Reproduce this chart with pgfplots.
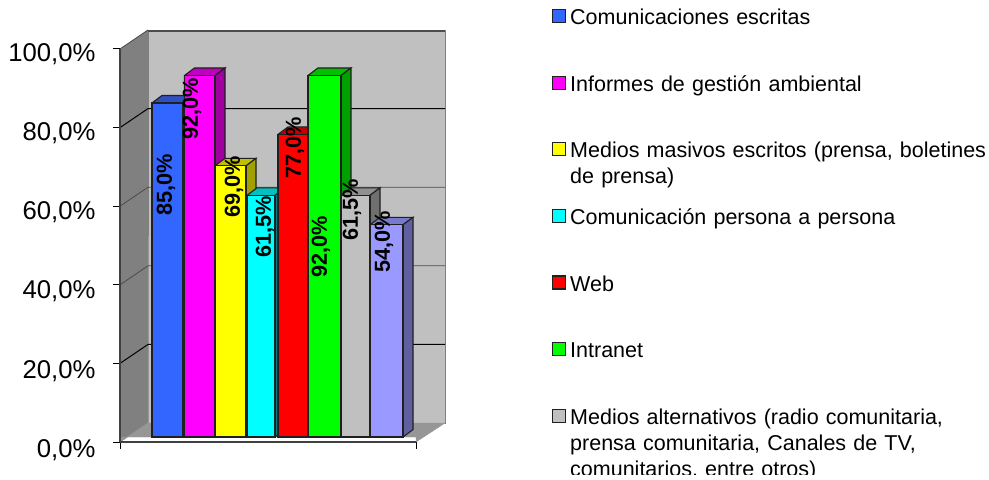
\documentclass[border=0pt]{standalone}
\usepackage{fontspec}
\setmainfont{Liberation Sans}
\usepackage{pgfplots}
\pgfplotsset{compat=1.18}
\definecolor{wall}{HTML}{C0C0C0}
\definecolor{lwall}{HTML}{808080}
\definecolor{floorc}{HTML}{969696}
\definecolor{edge}{HTML}{202020}
\definecolor{bF}{HTML}{3366FF}\definecolor{bT}{HTML}{3050C0}\definecolor{bS}{HTML}{2A4AA8}
\definecolor{mF}{HTML}{FF00FF}\definecolor{mT}{HTML}{C000C0}\definecolor{mS}{HTML}{A000A0}
\definecolor{yF}{HTML}{FFFF00}\definecolor{yT}{HTML}{C0C000}\definecolor{yS}{HTML}{A0A000}
\definecolor{cF}{HTML}{00FFFF}\definecolor{cT}{HTML}{00C0C0}\definecolor{cS}{HTML}{008080}
\definecolor{rF}{HTML}{FF0000}\definecolor{rT}{HTML}{C00000}\definecolor{rS}{HTML}{A00000}
\definecolor{gF}{HTML}{00FF00}\definecolor{gT}{HTML}{00C000}\definecolor{gS}{HTML}{00A000}
\definecolor{aF}{HTML}{C0C0C0}\definecolor{aT}{HTML}{909090}\definecolor{aS}{HTML}{707070}
\definecolor{lF}{HTML}{9999FF}\definecolor{lT}{HTML}{7A7ACC}\definecolor{lS}{HTML}{6060A0}
\tikzset{lab/.style={rotate=90,font=\fontsize{21.7bp}{21bp}\selectfont\bfseries,inner sep=0pt}}
\pgfplotsset{
  lg/.style={legend image code/.code={
    \draw[draw=edge,line width=1.2bp,fill=#1] (0bp,20bp) rectangle (13bp,33bp);}},
  face/.style={fill=#1,draw=edge,line width=1.1bp,forget plot},
  front/.style n args={2}{ybar,bar width=#1bp,fill=#2,draw=edge,line width=1.1bp},
}
\begin{document}
\begin{tikzpicture}
\path[use as bounding box] (0,0) rectangle (989bp,480bp);
\clip (0,5bp) rectangle (989bp,480bp);
\begin{axis}[
  at={(0,0)},anchor=south west,scale only axis,width=989bp,height=480bp,
  xmin=0,xmax=989,ymin=-10.94,ymax=111.2,hide axis,clip=false,
  legend style={at={(axis cs:552,108.9)},anchor=north west,draw=none,fill=none,inner sep=0pt,outer sep=0pt,
    font=\fontsize{21.5bp}{26bp}\selectfont,row sep=0pt,column sep=4bp,
    nodes={inner sep=0pt,outer sep=0pt,text width=420bp,align=left,text height=15bp,text depth=51bp}},
  legend cell align=left,
]
% walls and floor
\addplot[fill=lwall,draw=lwall,forget plot] coordinates {(120,-1.27)(148,3.56)(148,103.56)(120,98.73)} \closedcycle;
\addplot[fill=wall,draw=gray,line width=0.8bp,forget plot] coordinates {(148,3.56)(445,3.56)(445,103.56)(148,103.56)} \closedcycle;
\addplot[fill=floorc,draw=floorc,forget plot] coordinates {(120,-1.27)(148,3.56)(445,3.56)(416,-1.27)} \closedcycle;
% gridlines
\addplot[black,line width=1bp,forget plot] coordinates {(120,18.73)(148,23.56)(445,23.56)};
\addplot[black!70,line width=0.8bp,forget plot] coordinates {(120,38.73)(148,43.56)(445,43.56)};
\addplot[black!70,line width=0.8bp,forget plot] coordinates {(120,58.73)(148,63.56)(445,63.56)};
\addplot[black,line width=1bp,forget plot] coordinates {(120,78.73)(148,83.56)(445,83.56)};
\addplot[black!70,line width=2.5bp,forget plot] coordinates {(148,103.3)(445,103.3)};
\addplot[black!70,line width=0.8bp,forget plot] coordinates {(120,98.73)(148,103.56)};
% blue 85
\addplot[face=bT] coordinates {(152,85)(162,86.9)(193,86.9)(183,85)} \closedcycle;
\addplot[face=bS] coordinates {(183,0)(193,1.9)(193,86.9)(183,85)} \closedcycle;
\addplot[front={31}{bF},lg=bF] coordinates {(167.5,85)};
\addlegendentry{Comunicaciones escritas}
% magenta 92
\addplot[face=mT] coordinates {(184.5,92)(194.5,93.9)(225,93.9)(215,92)} \closedcycle;
\addplot[face=mS] coordinates {(215,0)(225,1.9)(225,93.9)(215,92)} \closedcycle;
\addplot[front={30.5}{mF},lg=mF] coordinates {(199.75,92)};
\addlegendentry{Informes de gestión ambiental}
% yellow 69
\addplot[face=yT] coordinates {(215,69)(225,70.9)(256,70.9)(246,69)} \closedcycle;
\addplot[face=yS] coordinates {(246,0)(256,1.9)(256,70.9)(246,69)} \closedcycle;
\addplot[front={31}{yF},lg=yF] coordinates {(230.5,69)};
\addlegendentry{Medios masivos escritos (prensa, boletines\\de prensa)}
% cyan 61.5
\addplot[face=cT] coordinates {(247,61.5)(257,63.4)(285,63.4)(275,61.5)} \closedcycle;
\addplot[face=cS] coordinates {(275,0)(285,1.9)(285,63.4)(275,61.5)} \closedcycle;
\addplot[front={28}{cF},lg=cF] coordinates {(261,61.5)};
\addlegendentry{Comunicación persona a persona}
% red 77
\addplot[face=rT] coordinates {(278,77)(288,78.9)(318,78.9)(308,77)} \closedcycle;
\addplot[face=rS] coordinates {(308,0)(318,1.9)(318,78.9)(308,77)} \closedcycle;
\addplot[front={30}{rF},lg=rF] coordinates {(293,77)};
\addlegendentry{Web}
% green 92
\addplot[face=gT] coordinates {(308,92)(318,93.9)(351,93.9)(341,92)} \closedcycle;
\addplot[face=gS] coordinates {(341,0)(351,1.9)(351,93.9)(341,92)} \closedcycle;
\addplot[front={33}{gF},lg=gF] coordinates {(324.5,92)};
\addlegendentry{Intranet}
% grey 61.5
\addplot[face=aT] coordinates {(341,61.5)(351,63.4)(380,63.4)(370,61.5)} \closedcycle;
\addplot[face=aS] coordinates {(370,0)(380,1.9)(380,63.4)(370,61.5)} \closedcycle;
\addplot[front={29}{aF},lg=aF] coordinates {(355.5,61.5)};
\addlegendentry{Medios alternativos (radio comunitaria,\\prensa comunitaria, Canales de TV,\\comunitarios, entre otros)}
% lavender 54
\addplot[face=lT] coordinates {(370,54)(380,55.9)(413,55.9)(403,54)} \closedcycle;
\addplot[face=lS] coordinates {(403,0)(413,1.9)(413,55.9)(403,54)} \closedcycle;
\addplot[front={33}{lF},forget plot] coordinates {(386.5,54)};
% value labels
\node[lab] at (axis cs:166,64.1) {85,0\%};
\node[lab] at (axis cs:192,83.5) {92,0\%};
\node[lab] at (axis cs:234,63.6) {69,0\%};
\node[lab] at (axis cs:265,53.4) {61,5\%};
\node[lab] at (axis cs:295,73.5) {77,0\%};
\node[lab] at (axis cs:321,48.3) {92,0\%};
\node[lab] at (axis cs:352,57.8) {61,5\%};
\node[lab] at (axis cs:384,49.6) {54,0\%};
\end{axis}
\begin{axis}[
  at={(120bp,38bp)},anchor=south west,scale only axis,width=296bp,height=393bp,
  xmin=0,xmax=1,ymin=0,ymax=100,
  axis x line*=bottom,axis y line*=left,
  axis line style={draw=black!75,line width=1.5bp,-},
  xtick={0,1},xticklabels={},
  ytick={0,20,40,60,80,100},
  yticklabels={{0,0\%},{20,0\%},{40,0\%},{60,0\%},{80,0\%},{100,0\%}},
  yticklabel style={font=\fontsize{25.7bp}{26bp}\selectfont,xshift=-14bp,yshift={-8bp+0.6bp*\ticknum}},
  tick style={draw=black,line width=1bp},
  tick align=outside,major tick length=7bp,
]
\end{axis}
\end{tikzpicture}
\end{document}
